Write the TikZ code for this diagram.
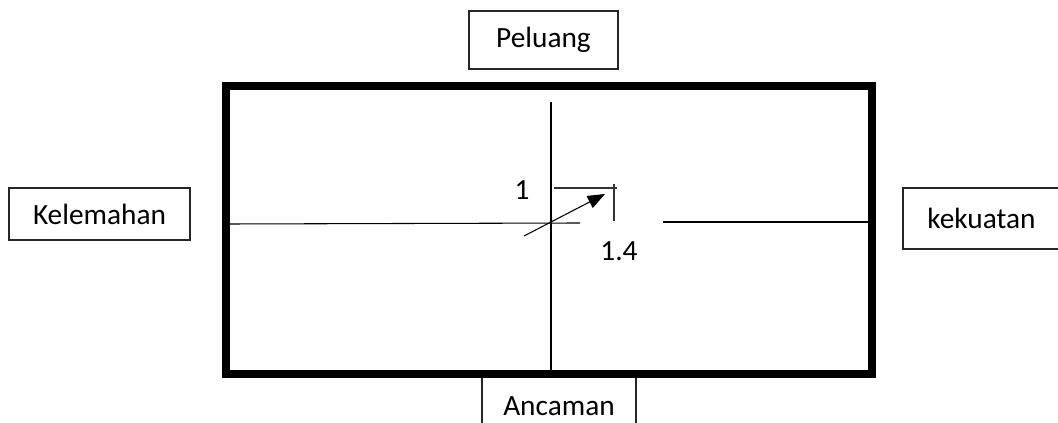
\documentclass[tikz,border=0pt]{standalone}
\usepackage{fontspec}
\setmainfont{Carlito}
\usetikzlibrary{arrows.meta}
\begin{document}
\begin{tikzpicture}[x=0.75pt,y=-0.75pt,
  font=\fontsize{22}{26}\selectfont,
  labelbox/.style={draw=black!85, line width=0.8pt, fill=white, inner sep=0pt, align=center},
  axis/.style={draw=black, line width=0.8pt},
  frame/.style={draw=black, line width=6pt},
  dim/.style={draw=black!80, line width=0.8pt}]
\useasboundingbox (0,0) rectangle (1058,423);
\clip (0,0) rectangle (1058,423);
% side boxes
\node[labelbox, minimum width=149*0.75pt, minimum height=58*0.75pt] (peluang) at (543.5,40) {Peluang};
\node[labelbox, minimum width=181*0.75pt, minimum height=52*0.75pt] (kelemahan) at (99.5,214) {Kelemahan};
\node[labelbox, minimum width=157*0.75pt, minimum height=61*0.75pt] (kekuatan) at (981.5,218.5) {kekuatan};
\node[labelbox, minimum width=154*0.75pt, minimum height=66*0.75pt, text depth=0pt] (ancaman) at (559,407) {\raisebox{1.5pt}{Ancaman}};
% main frame
\draw[frame] (226,86) coordinate (tl) rectangle (872,374) coordinate (br);
% axes
\coordinate (vtop) at (551,102);
\coordinate (vbot) at (551,372);
\coordinate (hl1) at (230,224);
\coordinate (hl2) at (580,223);
\coordinate (hr1) at (663,222);
\coordinate (hr2) at (868,222);
\draw[axis] (vtop) -- (vbot);
\draw[axis] (hl1) -- (hl2);
\draw[axis] (hr1) -- (hr2);
% vector and its dimension marks
\coordinate (vstart) at (524,236);
\coordinate (vtip) at (605,194);
\draw[axis, -{Triangle[length=13pt,width=10pt]}] (vstart) -- (vtip);
\coordinate (d1) at (554,188);
\coordinate (d2) at (617,188);
\coordinate (d3) at (614,184);
\coordinate (d4) at (614,221);
\draw[dim] (d1) -- (d2);
\draw[dim] (d3) -- (d4);
\node (one) at (522,190) {1};
\node (onefour) at (619,251) {1.4};
\end{tikzpicture}
\end{document}
